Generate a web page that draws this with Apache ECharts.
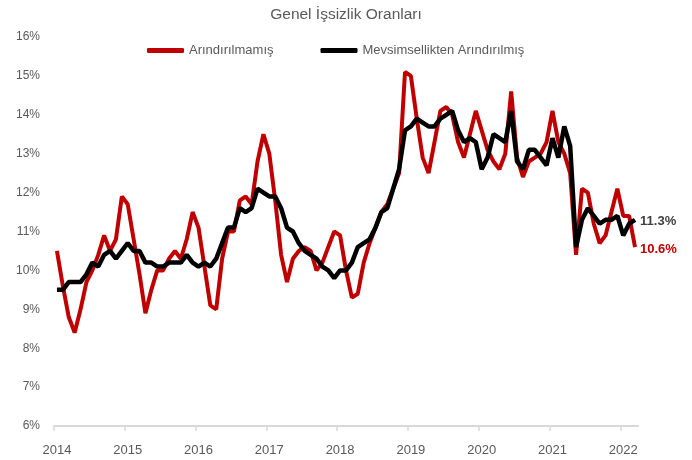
<!DOCTYPE html>
<html><head><meta charset="utf-8">
<script src="https://cdn.jsdelivr.net/npm/echarts@6/dist/echarts.min.js"></script>
<style>html,body{margin:0;padding:0;background:#fff}#c{width:692px;height:460px}</style>
</head><body><div id="c"></div>
<script>
const years = ['2014','2015','2016','2017','2018','2019','2020','2021','2022'];
const monthNums = ['01','02','03','04','05','06','07','08','09','10','11','12'];
const lastMonthCount = 3; // 2022: Jan-Mar
const months = [];
years.forEach((y, yi) => {
  const n = yi === years.length - 1 ? lastMonthCount : 12;
  for (let m = 0; m < n; m++) months.push(y + '-' + monthNums[m]);
});
const yearStartIndex = years.map((y) => months.indexOf(y + '-01'));

// Arındırılmamış (unadjusted), Jan 2014 - Mar 2022
const unadjusted = [
  10.5, 9.6, 8.8, 8.4, 9.0, 9.7, 10.0, 10.4, 10.9, 10.5, 10.8, 11.9,
  11.7, 10.8, 9.9, 8.9, 9.5, 10.0, 10.0, 10.3, 10.5, 10.3, 10.8, 11.5,
  11.1, 10.1, 9.1, 9.0, 10.3, 11.0, 11.0, 11.8, 11.9, 11.7, 12.8, 13.5,
  13.0, 11.8, 10.4, 9.7, 10.3, 10.5, 10.6, 10.5, 10.0, 10.2, 10.6, 11.0,
  10.9, 10.0, 9.3, 9.4, 10.2, 10.7, 11.1, 11.5, 11.7, 12.1, 12.5, 15.1,
  15.0, 13.9, 12.9, 12.5, 13.3, 14.1, 14.2, 14.0, 13.3, 12.9, 13.5, 14.1,
  13.6, 13.1, 12.8, 12.6, 13.0, 14.6, 12.9, 12.4, 12.8, 12.9, 13.0, 13.3,
  14.1, 13.3, 13.0, 12.5, 10.4, 12.1, 12.0, 11.2, 10.7, 10.9, 11.5, 12.1,
  11.4, 11.4, 10.6
];
// Mevsimsellikten Arındırılmış (seasonally adjusted)
const adjusted = [
  9.5, 9.5, 9.7, 9.7, 9.7, 9.9, 10.2, 10.1, 10.4, 10.5, 10.3, 10.5,
  10.7, 10.5, 10.5, 10.2, 10.2, 10.1, 10.1, 10.2, 10.2, 10.2, 10.4, 10.2,
  10.1, 10.2, 10.1, 10.3, 10.7, 11.1, 11.1, 11.6, 11.5, 11.6, 12.1, 12.0,
  11.9, 11.9, 11.6, 11.1, 11.0, 10.7, 10.5, 10.4, 10.3, 10.1, 10.0, 9.8,
  10.0, 10.0, 10.2, 10.6, 10.7, 10.8, 11.1, 11.5, 11.6, 12.1, 12.6, 13.6,
  13.7, 13.9, 13.8, 13.7, 13.7, 13.9, 14.0, 14.1, 13.6, 13.3, 13.4, 13.3,
  12.6, 12.9, 13.5, 13.4, 13.3, 14.1, 12.8, 12.6, 13.1, 13.1, 12.9, 12.7,
  13.4, 12.9, 13.7, 13.2, 10.6, 11.3, 11.6, 11.4, 11.2, 11.3, 11.3, 11.4,
  10.9, 11.2, 11.3
];

const FONT = '"Liberation Sans", Arial, sans-serif';
const chart = echarts.init(document.getElementById('c'), null, {renderer: 'canvas'});
chart.setOption({
  animation: false,
  backgroundColor: '#ffffff',
  title: {
    text: 'Genel İşsizlik Oranları',
    left: 'center', top: 2,
    textStyle: {fontFamily: FONT, fontSize: 15.5, fontWeight: 'normal', color: '#595959'}
  },
  legend: {
    left: 142, top: 39,
    icon: 'roundRect', itemWidth: 37, itemHeight: 5, itemGap: 47,
    textStyle: {fontFamily: FONT, fontSize: 13, color: '#595959'},
    data: ['Arındırılmamış', 'Mevsimsellikten Arındırılmış']
  },
  grid: {left: 54, right: 54, top: 37, bottom: 34, containLabel: false},
  xAxis: [
    {
      type: 'category',
      data: months,
      boundaryGap: true,
      axisLine: {show: true, lineStyle: {color: '#d9d9d9', width: 2}},
      axisTick: {show: false},
      axisLabel: {
        interval: (i) => i % 12 === 0,
        formatter: (v) => v.slice(0, 4),
        margin: 18,
        fontFamily: FONT, fontSize: 13, color: '#595959'
      },
      splitLine: {show: false}
    },
    {
      type: 'value', min: 0, max: months.length, position: 'bottom',
      axisLine: {show: false},
      axisLabel: {show: false},
      splitLine: {show: false},
      axisTick: {show: true, customValues: yearStartIndex, length: 5, lineStyle: {color: '#d9d9d9', width: 1.5}}
    }
  ],
  yAxis: {
    type: 'value', min: 6, max: 16, interval: 1,
    axisLine: {show: false}, axisTick: {show: false},
    splitLine: {show: false},
    axisLabel: {formatter: '{value}%', margin: 14, fontFamily: FONT, fontSize: 12, color: '#595959'}
  },
  series: [
    {
      name: 'Arındırılmamış', type: 'line', data: unadjusted, xAxisIndex: 0,
      symbol: 'none', smooth: false,
      lineStyle: {color: '#C00000', width: 4},
      itemStyle: {color: '#C00000'},
      endLabel: {show: true, formatter: (p) => Number(p.value).toFixed(1) + '%',
        color: '#C00000', fontWeight: 'bold', fontSize: 13, fontFamily: FONT, distance: 5, offset: [0, 2]}
    },
    {
      name: 'Mevsimsellikten Arındırılmış', type: 'line', data: adjusted, xAxisIndex: 0,
      symbol: 'none', smooth: false,
      lineStyle: {color: '#000000', width: 4.5},
      itemStyle: {color: '#000000'},
      endLabel: {show: true, formatter: (p) => Number(p.value).toFixed(1) + '%',
        color: '#404040', fontWeight: 'bold', fontSize: 13, fontFamily: FONT, distance: 5, offset: [0, 2]}
    }
  ]
});
</script></body></html>
